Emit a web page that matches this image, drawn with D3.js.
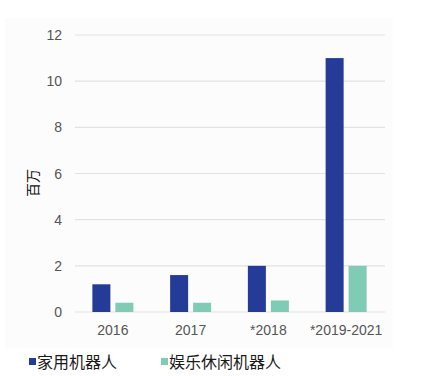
<!DOCTYPE html>
<html>
<head>
<meta charset="utf-8">
<script src="https://cdn.jsdelivr.net/npm/d3@7"></script>
<style>
  body { margin: 0; background: #fff; }
  text { font-family: "Liberation Sans", Arial, sans-serif; }
  .cjk { font-family: "Noto Sans CJK SC", sans-serif; }
</style>
</head>
<body>
<svg id="chart" width="421" height="376"></svg>
<script>
var width = 421, height = 376;

// Data
var categories = ["2016", "2017", "*2018", "*2019-2021"];
var seriesNames = ["家用机器人", "娱乐休闲机器人"];
var homeRobots = [1.2, 1.6, 2.0, 11.0];
var leisureRobots = [0.4, 0.4, 0.5, 2.0];
var yTicks = [0, 2, 4, 6, 8, 10, 12];
var colors = ["#243c97", "#7fcbb3"];

var rows = categories.map(function(c, i) {
  return { cat: c, values: [homeRobots[i], leisureRobots[i]] };
});

var svg = d3.select("#chart");

// faint panel behind the chart
svg.append("rect")
  .attr("x", 5).attr("y", 18)
  .attr("width", 388).attr("height", 330)
  .attr("fill", "#fcfcfc");

var x0 = d3.scaleBand()
  .domain(categories)
  .range([74, 385])
  .padding(0);

var groupW = 41;
var x1 = d3.scaleBand()
  .domain([0, 1])
  .range([0, groupW])
  .paddingInner(5 / 23);

var y = d3.scaleLinear()
  .domain([0, 12])
  .range([312, 35]);

// gridlines
svg.append("g")
  .selectAll("line")
  .data(yTicks)
  .enter().append("line")
    .attr("x1", 75)
    .attr("x2", 385)
    .attr("y1", function(d) { return y(d); })
    .attr("y2", function(d) { return y(d); })
    .attr("stroke", "#e2e2e2")
    .attr("stroke-width", 1.2);

// y tick labels
svg.append("g")
  .selectAll("text")
  .data(yTicks)
  .enter().append("text")
    .attr("x", 62)
    .attr("y", function(d) { return y(d); })
    .attr("dy", "0.36em")
    .attr("text-anchor", "end")
    .attr("font-size", 14)
    .attr("fill", "#555")
    .text(function(d) { return d; });

// bars
var groups = svg.append("g")
  .selectAll("g")
  .data(rows)
  .enter().append("g")
    .attr("transform", function(d) {
      return "translate(" + (x0(d.cat) + (x0.bandwidth() - groupW) / 2) + ",0)";
    });

groups.selectAll("rect")
  .data(function(d) { return d.values; })
  .enter().append("rect")
    .attr("x", function(d, i) { return x1(i); })
    .attr("width", x1.bandwidth())
    .attr("y", function(d) { return y(d); })
    .attr("height", function(d) { return y(0) - y(d); })
    .attr("fill", function(d, i) { return colors[i]; });

// x labels
svg.append("g")
  .selectAll("text")
  .data(categories)
  .enter().append("text")
    .attr("x", function(d) { return x0(d) + x0.bandwidth() / 2; })
    .attr("y", 335)
    .attr("text-anchor", "middle")
    .attr("font-size", 14)
    .attr("fill", "#555")
    .text(function(d) { return d; });

// y axis title
svg.append("text")
  .attr("class", "cjk")
  .attr("transform", "translate(38,183) rotate(-90)")
  .attr("text-anchor", "middle")
  .attr("font-size", 14)
  .attr("fill", "#111")
  .text("百万");

// legend
var legendX = [29, 161];
var legend = svg.append("g")
  .selectAll("g")
  .data(seriesNames)
  .enter().append("g")
    .attr("transform", function(d, i) { return "translate(" + legendX[i] + ",362)"; });

legend.append("rect")
  .attr("x", 0).attr("y", -4)
  .attr("width", 7).attr("height", 7)
  .attr("fill", function(d, i) { return colors[i]; });

legend.append("text")
  .attr("class", "cjk")
  .attr("x", 8)
  .attr("dy", "0.36em")
  .attr("font-size", 16)
  .attr("fill", "#1a1a1a")
  .text(function(d) { return d; });
</script>
</body>
</html>
